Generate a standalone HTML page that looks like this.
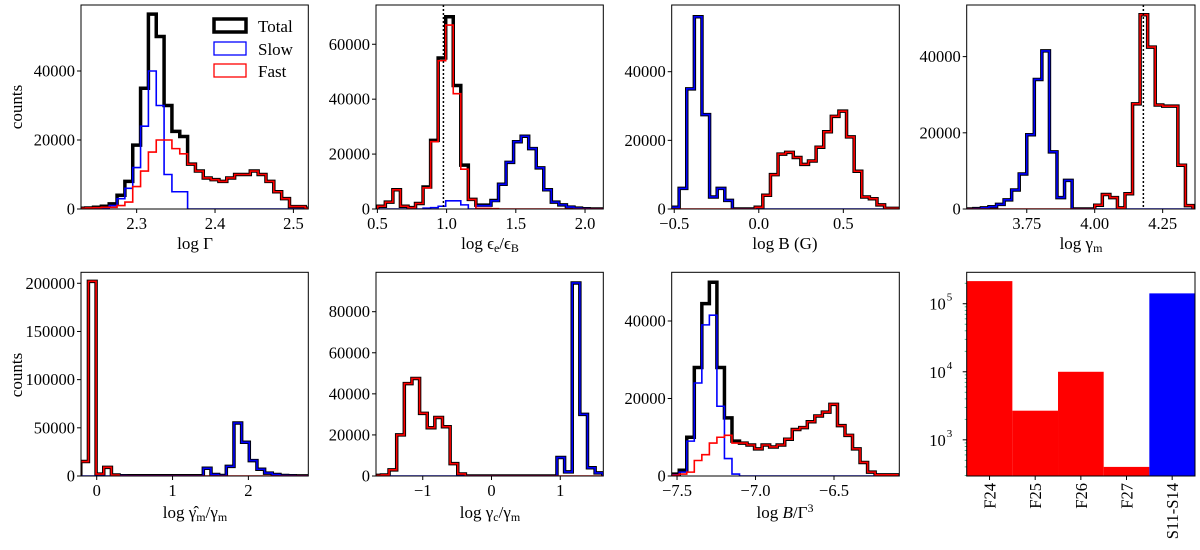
<!DOCTYPE html>
<html><head><meta charset="utf-8"><style>
html,body{margin:0;padding:0;background:#fff;}
svg{display:block;font-family:"Liberation Serif",serif;}
</style></head><body>
<svg id="fig" width="1200" height="550" viewBox="0 0 1200 550" xmlns="http://www.w3.org/2000/svg">
<text x="22" y="107" font-size="17" text-anchor="middle" transform="rotate(-90 22 107)">counts</text>
<text x="22" y="375" font-size="17" text-anchor="middle" transform="rotate(-90 22 375)">counts</text>
<text x="195" y="249" font-size="17" text-anchor="middle">log Γ</text>
<text x="490" y="249" font-size="17" text-anchor="middle">log ϵ<tspan font-size="12" dy="3">e</tspan><tspan dy="-3">/ϵ</tspan><tspan font-size="12" dy="3">B</tspan></text>
<text x="785" y="249" font-size="17" text-anchor="middle">log B (G)</text>
<text x="1081" y="249" font-size="17" text-anchor="middle">log γ<tspan font-size="12" dy="3">m</tspan></text>
<text x="195" y="518" font-size="17" text-anchor="middle">log γ̂<tspan font-size="12" dy="3">m</tspan><tspan dy="-3">/γ</tspan><tspan font-size="12" dy="3">m</tspan></text>
<text x="490" y="518" font-size="17" text-anchor="middle">log γ<tspan font-size="12" dy="3">c</tspan><tspan dy="-3">/γ</tspan><tspan font-size="12" dy="3">m</tspan></text>
<text x="785" y="518" font-size="17" text-anchor="middle">log <tspan font-style="italic">B</tspan>/Γ<tspan font-size="12" dy="-6">3</tspan></text>
<g>
<rect x="214" y="19" width="32" height="13" fill="none" stroke="#000" stroke-width="3.5"/>
<text x="258" y="32" font-size="17">Total</text>
<rect x="214" y="42" width="32" height="13" fill="none" stroke="#00f" stroke-width="1.3"/>
<text x="258" y="55" font-size="17">Slow</text>
<rect x="214" y="64" width="32" height="13" fill="none" stroke="#f00" stroke-width="1.3"/>
<text x="258" y="77" font-size="17">Fast</text>
</g>
</svg>
<script>
// ---- data ----
const p1Slow=[0,0,100,300,1000,3000,6000,12000,24000,40000,30000,10000,5000,5000,0,0,0,0,0,0,0,0,0,0,0,0,0,0,0,0];
const p1Fast=[200,300,400,500,500,1000,2000,6500,11000,16500,20000,20000,17500,16000,13000,11000,9000,8500,8000,9000,10000,10000,11000,10000,8000,5000,3000,700,700,200];
const p2Slow=[0,0,0,0,0,0,300,500,1000,3000,3000,1500,0,1200,1200,3000,9000,17000,24500,26500,22000,15000,7000,2500,1500,700,300,100,0,0];
const p2Fast=[1000,2500,7000,1000,500,2000,7700,24500,54000,67000,42000,14500,3500,200,200,100,0,0,0,0,0,0,0,0,0,0,0,0,0,0];
const p3Slow=[500,6000,35000,56000,27500,3500,6000,2500,0,0,0,0,0,0,0,0,0,0,0,0,0,0,0,0,0,0,0,0,0,0];
const p3Fast=[0,0,0,0,0,0,0,0,0,0,0,500,4000,10000,16000,16500,15000,13000,14000,18000,22500,27000,28500,21000,11000,3500,3000,1200,200,200];
const p4Slow=[0,100,300,600,1200,2400,5000,9200,19500,34000,41500,15000,3000,7500,0,0,0,0,0,0,0,0,0,0,0,0,0,0,0,0];
const p4Fast=[0,0,0,0,0,0,0,0,0,0,0,0,0,0,0,0,0,1000,3800,3000,300,4000,27600,51000,42500,27300,27000,27000,11500,900];
const p5Slow=[0,0,0,0,0,300,200,200,200,200,200,200,200,200,200,200,8000,1500,500,10000,55000,35000,16000,7000,3000,1500,500,300,100,100];
const p5Fast=[15000,202000,2000,9000,1000,0,0,0,0,0,0,0,0,0,0,0,0,0,0,0,0,0,0,0,0,0,0,0,0,0];
const p6Slow=[0,0,0,0,0,0,0,0,0,0,0,0,0,0,0,0,0,0,0,0,0,0,0,0,9000,2000,94000,30000,4000,1500];
const p6Fast=[300,500,3000,20000,45000,47500,30500,23500,28500,24000,6000,1000,0,0,0,0,0,0,0,0,0,0,0,0,0,0,0,0,0,0];
const p7Slow=[300,1000,9000,24000,39000,41500,18000,4500,500,0,0,0,0,0,0,0,0,0,0,0,0,0,0,0,0,0,0,0,0,0];
const p7Fast=[200,500,1000,4000,5500,8500,10000,10500,8500,8500,8000,7000,8000,7500,8000,9500,12000,12500,14000,15500,16500,18500,13000,10500,7000,3500,1000,300,300,300];
const barCategories=["F24","F25","F26","F27","S11-S14"];
const barValues=[215000,2680,10000,400,142000];
const barColors=["#f00","#f00","#f00","#f00","#00f"];

const NS="http://www.w3.org/2000/svg";
const svg=document.getElementById('fig');
function mk(tag,attrs,parent){const e=document.createElementNS(NS,tag);for(const k in attrs)e.setAttribute(k,attrs[k]);(parent||svg).appendChild(e);return e;}

function panel(id,L,R,T,B,xmin,xmax,ymax,start,width,slow,fast,xt,xtl,yt,dotted){
  const g=mk('g',{});
  
  
  const sx=v=>L+(v-xmin)/(xmax-xmin)*(R-L);
  const sy=v=>B-v/ymax*(B-T);
  const clip=mk('clipPath',{id:'c'+id},g);
  mk('rect',{x:L,y:T,width:R-L,height:B-T},clip);
  const total=slow.map((s,i)=>s+fast[i]);
  function step(arr,color,w,name){
    let d='M'+sx(start)+','+sy(0);
    arr.forEach((v,i)=>{const x0=sx(start+i*width),x1=sx(start+(i+1)*width);d+=' L'+x0+','+sy(v)+' L'+x1+','+sy(v);});
    d+=' L'+sx(start+arr.length*width)+','+sy(0);
    const p=mk('path',{d:d,fill:'none',stroke:color,'stroke-width':w,'stroke-linejoin':'miter','clip-path':'url(#c'+id+')'},g);
    
    
  }
  step(total,'#000',3.5,'total-hist');
  step(slow,'#00f',1.6,'slow-hist');
  step(fast,'#f00',1.6,'fast-hist');
  if(dotted!==undefined){
    const l=mk('line',{x1:sx(dotted),x2:sx(dotted),y1:T,y2:B,stroke:'#000','stroke-width':1.5,'stroke-dasharray':'2,2'},g);
    
    
  }
  const fr=mk('rect',{x:L,y:T,width:R-L,height:B-T,fill:'none',stroke:'#000','stroke-width':1},g);
  
  
  xt.forEach((v,i)=>{
    mk('line',{x1:sx(v),x2:sx(v),y1:B,y2:B+4,stroke:'#000'},g);
    const t=mk('text',{x:sx(v),y:B+20,'font-size':16.5,'text-anchor':'middle'},g);t.textContent=xtl[i];
    
    
  });
  yt.forEach(v=>{
    mk('line',{x1:L-4,x2:L,y1:sy(v),y2:sy(v),stroke:'#000'},g);
    const t=mk('text',{x:L-6,y:sy(v)+5.5,'font-size':16.5,'text-anchor':'end'},g);t.textContent=String(v);
    
    
  });
}
panel('panel-lorentz',81,308.3,5,209,2.229,2.519,59130,2.225,0.01,p1Slow,p1Fast,[2.3,2.4,2.5],['2.3','2.4','2.5'],[0,20000,40000]);
panel('panel-epsilon',376,603.3,5,209,0.49,2.132,74300,0.503,0.0545,p2Slow,p2Fast,[0.5,1.0,1.5,2.0],['0.5','1.0','1.5','2.0'],[0,20000,40000,60000],0.977);
panel('panel-field',671.7,899.3,5,209,-0.515,0.831,59430,-0.516,0.045,p3Slow,p3Fast,[-0.5,0,0.5],['−0.5','0.0','0.5'],[0,20000,40000]);
panel('panel-gammam',966.7,1195,5,209,3.529,4.369,53550,3.5276,0.0278,p4Slow,p4Fast,[3.75,4.0,4.25],['3.75','4.00','4.25'],[0,20000,40000],4.179);
panel('panel-gammahat',81,308.3,272.3,476,-0.207,2.79,211400,-0.21,0.101,p5Slow,p5Fast,[0,1,2],['0','1','2'],[0,50000,100000,150000,200000]);
panel('panel-gammac',376,603.3,272.3,476,-1.68,1.626,99180,-1.712,0.111,p6Slow,p6Fast,[-1,0,1],['−1','0','1'],[0,20000,40000,60000,80000]);
panel('panel-bgamma',671.7,899.3,272.3,476,-7.534,-6.084,52570,-7.534,0.048,p7Slow,p7Fast,[-7.5,-7.0,-6.5],['−7.5','−7.0','−6.5'],[0,20000,40000]);

// bar chart (log y)
(function(){
  const L=966.7,R=1195,T=272.3,B=476,lmin=Math.log10(294),lmax=5.462;
  const g=mk('g',{});
  
  
  const sy=v=>B-(Math.log10(v)-lmin)/(lmax-lmin)*(B-T);
  const bw=(R-L)/barCategories.length;
  barCategories.forEach((c,i)=>{
    const y=sy(barValues[i]);
    const r=mk('rect',{x:L+i*bw,y:y,width:bw,height:B-y,fill:barColors[i]},g);
    
    
    const cx=L+(i+0.5)*bw;
    mk('line',{x1:cx,x2:cx,y1:B,y2:B+4,stroke:'#000'},g);
    const t=mk('text',{x:cx+6,y:B+7,'font-size':16.5,'text-anchor':'end',transform:'rotate(-90 '+(cx+6)+' '+(B+7)+')'},g);
    t.textContent=c;
    
    
  });
  for(let d=2;d<=5;d++){for(let k=1;k<=9;k++){const v=k*Math.pow(10,d);const lv=Math.log10(v);if(lv<lmin||lv>lmax)continue;
    const y=sy(v);mk('line',{x1:L-(k==1?4:2),x2:L,y1:y,y2:y,stroke:k==1?'#000':'#2a7',"stroke-width":k==1?1:0.8},g);
    if(k==1){const t=mk('text',{x:L-21,y:y+6,'font-size':16.5,'text-anchor':'end'},g);t.textContent='10';
      
      
      const s=mk('text',{x:L-20,y:y-3,'font-size':11},g);s.textContent=String(d);}}}
  mk('rect',{x:L,y:T,width:R-L,height:B-T,fill:'none',stroke:'#000','stroke-width':1},g);
})();
</script>
</body></html>
